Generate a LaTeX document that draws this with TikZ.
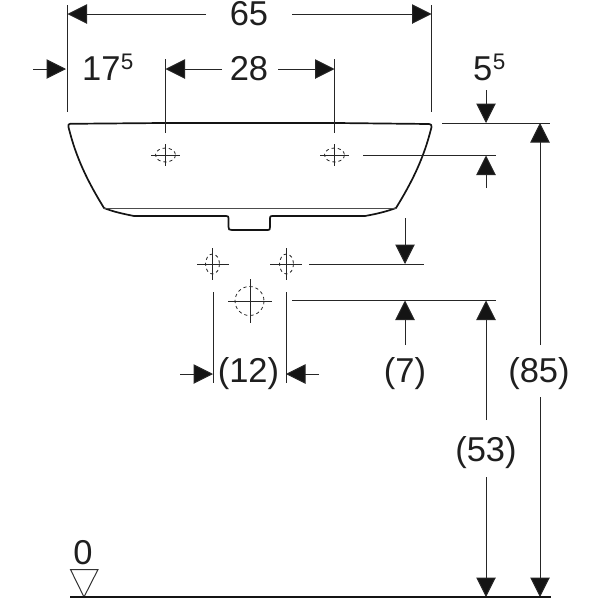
\documentclass[tikz,border=0pt]{standalone}
\usepackage{fontspec}
\setmainfont{Liberation Sans}
\usetikzlibrary{arrows.meta}
\tikzset{
  dimline/.style={line width=1pt,draw=black!85},
  dimarrow/.style={dimline,-{Triangle[length=19.5pt,width=19.5pt,fill=black!92]}},
  extline/.style={line width=1pt,draw=black!85},
  basin/.style={line width=1.7pt,line join=round,draw=black!92},
  thin inner/.style={line width=0.6pt,draw=black!70},
  crossline/.style={line width=1pt,draw=black!85},
  holedash/.style={line width=0.8pt,draw=black!85,dash pattern=on 3.2pt off 3pt},
  lbl/.style={inner sep=0pt,font=\fontsize{34.5}{34.5}\selectfont,text=black!88,anchor=center},
  sup5/.style={inner sep=0pt,font=\fontsize{22.5}{22.5}\selectfont,text=black!88,anchor=base west},
}
\begin{document}
\begin{tikzpicture}[x=1pt,y=-1pt]
\useasboundingbox (0,0) rectangle (600,600);
% coordinates
\coordinate (wL) at (67.5,14);
\coordinate (wR) at (431.5,14);
\coordinate (hL) at (165.5,69);
\coordinate (hR) at (334.5,69);
\coordinate (h1) at (165.5,155);
\coordinate (h2) at (334.5,155);
\coordinate (h3) at (212.5,264);
\coordinate (h4) at (286.5,264);
\coordinate (h5) at (249.5,301);
% basin
\draw[basin] (70,123.8) -- (163,123) -- (336,123) -- (429,124)
  .. controls (431,124) and (431.8,125) .. (431.5,127)
  .. controls (424,158) and (412,182) .. (396,208)
  .. controls (385,212) and (376,214) .. (365,216)
  -- (272,216) .. controls (270.5,216) and (270,216.5) .. (270,218)
  -- (270,227) .. controls (270,229.5) and (269.5,230) .. (268,230)
  -- (232,230) .. controls (229,230) and (228.5,229.5) .. (228.5,227)
  -- (228.5,218) .. controls (228.5,216.5) and (228,216) .. (226,216)
  -- (134,216) .. controls (124,214) and (114,212) .. (104,208)
  .. controls (88,182) and (76,158) .. (68.5,127)
  .. controls (68,125) and (68.5,124) .. (70,123.8);
\draw[thin inner] (104,208.5) -- (396,208.5);
% extension lines
\draw[extline] (67.5,5) -- (67.5,112);
\draw[extline] (431.5,5) -- (431.5,112);
\draw[extline] (165.5,59) -- (165.5,133);
\draw[extline] (334.5,59) -- (334.5,133);
\draw[extline] (442,123) -- (550,123);
\draw[extline] (363,155) -- (496,155);
\draw[extline] (309,264) -- (424,264);
\draw[extline] (292,300.5) -- (496,300.5);
\draw[extline] (213,292) -- (213,383);
\draw[extline] (286,292) -- (286,383);
% hole symbols
\draw[crossline] (151,155) -- (180,155) (165.5,144) -- (165.5,166);
\draw[holedash] (h1) ellipse [x radius=10,y radius=7];
\draw[crossline] (320,155) -- (349,155) (334.5,144) -- (334.5,166);
\draw[holedash] (h2) ellipse [x radius=10,y radius=7];
\draw[crossline] (197,264) -- (229,264) (212.5,248) -- (212.5,280);
\draw[holedash] (h3) ellipse [x radius=7,y radius=10];
\draw[crossline] (270,264) -- (302,264) (286.5,248) -- (286.5,280);
\draw[holedash] (h4) ellipse [x radius=7,y radius=10];
\draw[crossline] (228,301) -- (272,301) (250,279) -- (250,323);
\draw[holedash] (h5) circle [radius=14.5];
% labels
\node[lbl] (t65) at (249,14) {65};
\node[lbl] (t28) at (249,69) {28};
\node[lbl,anchor=base west] (t17) at (82,80) {17};
\node[sup5] (t17s) at (t17.base east) [yshift=11pt] {5};
\node[lbl,anchor=base west] (t55) at (473,80) {5};
\node[sup5] (t55s) at (t55.base east) [yshift=11pt] {5};
\node[lbl] (t12) at (248.5,374) {(12)};
\node[lbl] (t7) at (405,374) {(7)};
\node[lbl] (t53) at (486,453) {(53)};
\node[lbl] (t85) at (539,374) {(85)};
\node[lbl] (t0) at (83,553) {0};
% dimension arrows
\draw[dimarrow] (206,14) -- (wL);
\draw[dimarrow] (292,14) -- (wR);
\draw[dimarrow] (222,69) -- (hL);
\draw[dimarrow] (278,69) -- (hR);
\draw[dimarrow] (33,69) -- (66,69);
\draw[dimarrow] (486,90) -- (486,123);
\draw[dimarrow] (486,188) -- (486,155.5);
\draw[dimarrow] (405,218) -- (405,264);
\draw[dimarrow] (405,345) -- (405,300.5);
\draw[dimarrow] (180,374) -- (213,374);
\draw[dimarrow] (319,374) -- (286,374);
\draw[dimarrow] (486,420) -- (486,300.5);
\draw[dimarrow] (486,477) -- (486,597);
\draw[dimarrow] (540,345) -- (540,123);
\draw[dimarrow] (540,397) -- (540,597);
% datum
\draw[line width=1pt,draw=black!80,line join=miter] (70.5,569.5) -- (98,569.5) -- (84,597) -- cycle;
\draw[line width=2.2pt,draw=black!92] (70,597) -- (551,597);
\end{tikzpicture}
\end{document}
